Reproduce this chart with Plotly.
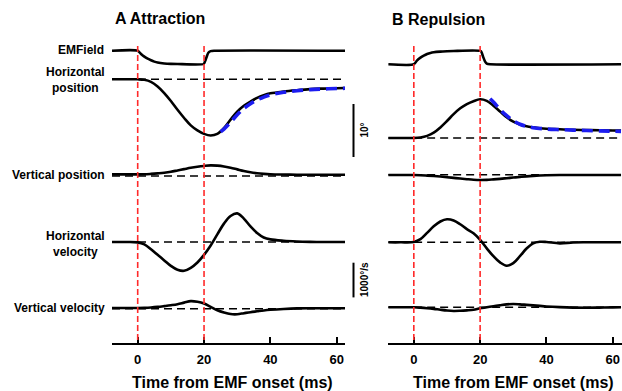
import numpy as np
import plotly.graph_objects as go

# ---------------- data ----------------
t_common = [-7.75, -4, 0, 2, 4, 6, 8, 10, 12, 14, 16, 18, 20, 22, 24, 26, 28, 30,
            32, 34, 36, 38, 40, 44, 48, 52, 56, 60, 62.5]

# EMField (normalised units)
t_emf_A = [-7.75, 0, 1, 2, 3, 4, 5, 6, 8, 10, 12, 19.9, 20.3, 20.8, 21.3, 22, 23, 62.5]
emf_A = [0, 0, -0.25, -0.45, -0.6, -0.72, -0.82, -0.89, -0.96, -0.99, -1, -1, -0.8,
         -0.45, -0.15, -0.03, 0, 0]
t_emf_B = [-7.75, 0, 1, 2, 3, 4, 5, 6, 8, 10, 12, 20.2, 20.6, 21, 21.5, 22, 23, 62.5]
emf_B = [0, 0, 0.3, 0.5, 0.65, 0.77, 0.85, 0.9, 0.95, 0.98, 1, 1, 0.8, 0.5, 0.2,
         0.05, 0, 0]

# positions (deg)
hpos_A = [0, 0, 0, -0.1, -0.5, -1.35, -2.6, -4.1, -5.75, -7.3, -8.7, -9.65, -10.3,
          -10.6, -10.3, -9.2, -7.6, -6.1, -5.0, -4.2, -3.5, -3.0, -2.65, -2.3, -2.05,
          -1.85, -1.75, -1.68, -1.64]
vpos_A = [0.3, 0.3, 0.3, 0.32, 0.4, 0.5, 0.62, 0.8, 1.05, 1.3, 1.55, 1.75, 1.9, 2.0,
          1.95, 1.8, 1.55, 1.25, 0.95, 0.7, 0.52, 0.4, 0.32, 0.27, 0.25, 0.25, 0.25,
          0.25, 0.25]
hpos_B = [0, 0, 0, 0.1, 0.4, 1.0, 2.0, 3.2, 4.5, 5.6, 6.4, 6.95, 7.3, 7.0, 6.1, 5.0,
          3.9, 3.1, 2.55, 2.2, 2.0, 1.85, 1.75, 1.65, 1.55, 1.5, 1.45, 1.42, 1.4]
vpos_B = [-0.05, -0.05, -0.06, -0.1, -0.17, -0.25, -0.35, -0.47, -0.6, -0.73, -0.85,
          -0.95, -1.0, -0.97, -0.88, -0.78, -0.66, -0.54, -0.42, -0.31, -0.22, -0.15,
          -0.1, -0.07, -0.06, -0.06, -0.06, -0.06, -0.06]

# exponential fits (deg)
t_fit_A = [25, 26, 28, 30, 32, 34, 36, 38, 40, 44, 48, 52, 56, 60, 62.5]
fit_A = [-9.9, -9.4, -8.1, -6.7, -5.5, -4.6, -3.9, -3.35, -2.95, -2.45, -2.15, -1.95,
         -1.82, -1.74, -1.7]
t_fit_B = [23, 24, 26, 28, 30, 32, 34, 36, 40, 44, 50, 56, 62.5]
fit_B = [7.4, 6.8, 5.4, 4.2, 3.25, 2.6, 2.2, 1.95, 1.7, 1.58, 1.45, 1.35, 1.25]

# velocities (deg/s)
hvel_A = [0, 0, -10, -70, -210, -370, -530, -690, -800, -830, -745, -590, -370, -100,
          220, 530, 750, 825, 675, 450, 260, 130, 75, 35, 15, 5, 0, 0, 0]
vvel_A = [20, 20, 20, 25, 35, 52, 75, 100, 130, 175, 218, 200, 150, 50, -45, -110,
          -155, -160, -130, -100, -75, -50, -32, -8, 8, 12, 12, 12, 12]
hvel_B = [0, 0, 10, 90, 270, 460, 600, 665, 630, 520, 380, 260, 70, -175, -400, -580,
          -675, -600, -400, -180, -30, 15, 10, -30, -5, 0, 0, 0, 0]
vvel_B = [0, 0, 0, -10, -25, -45, -70, -92, -105, -100, -88, -70, -30, 0, 32, 60, 85,
          95, 85, 70, 55, 40, 25, 5, -8, -12, -8, -3, 0]

event_times = [0, 20]
tick_vals = [0, 20, 40, 60]
scale_pos_deg = 10
scale_vel_degs = 1000

# ---------------- layout constants ----------------
W, H = 622, 391
PLOT_H = 343                      # plot area height in px (y axis in px units)
S_EMF = 13.3                      # px per EMF unit
S_POS = 5.3                       # px per degree
S_VEL = 0.0347                    # px per deg/s
BASE = {
    "A": dict(emf=50.7, hpos=79.3, vpos=176.0, hvel=242.0, vvel=308.7),
    "B": dict(emf=64.3, hpos=138.0, vpos=174.7, hvel=242.3, vvel=307.3),
}
XR = {"A": [-7.75, 62.5], "B": [-7.7, 62.7]}
DOM = {"A": [112 / W, 345 / W], "B": [388.3 / W, 621.7 / W]}
FONT = "Liberation Sans, Arial, Helvetica, sans-serif"

def yp(base, vals, s):
    return base - np.asarray(vals, dtype=float) * s

fig = go.Figure()
BLACK = dict(color="black", width=2.6)

panels = {
    "A": dict(xa="x", ya="y", emf_t=t_emf_A, emf=emf_A, hpos=hpos_A, vpos=vpos_A,
              hvel=hvel_A, vvel=vvel_A, tf=t_fit_A, fit=fit_A),
    "B": dict(xa="x2", ya="y2", emf_t=t_emf_B, emf=emf_B, hpos=hpos_B, vpos=vpos_B,
              hvel=hvel_B, vvel=vvel_B, tf=t_fit_B, fit=fit_B),
}

shapes = []
for key, p in panels.items():
    b = BASE[key]
    xa, ya = p["xa"], p["ya"]
    # dashed baselines
    for k in ["hpos", "vpos", "hvel", "vvel"]:
        fig.add_trace(go.Scatter(x=[t_common[0], t_common[-1]], y=[b[k], b[k]],
                                 mode="lines", xaxis=xa, yaxis=ya, hoverinfo="skip",
                                 line=dict(color="black", width=1.4, dash="8px,5px"),
                                 showlegend=False))
    fig.add_trace(go.Scatter(x=p["emf_t"], y=yp(b["emf"], p["emf"], S_EMF), mode="lines",
                             xaxis=xa, yaxis=ya, line=dict(BLACK, shape="spline", smoothing=0.6),
                             showlegend=False))
    for k, s in [("hpos", S_POS), ("vpos", S_POS), ("hvel", S_VEL), ("vvel", S_VEL)]:
        fig.add_trace(go.Scatter(x=t_common, y=yp(b[k], p[k], s), mode="lines",
                                 xaxis=xa, yaxis=ya,
                                 line=dict(BLACK, shape="spline", smoothing=1.0),
                                 showlegend=False))
    fig.add_trace(go.Scatter(x=p["tf"], y=yp(b["hpos"], p["fit"], S_POS), mode="lines",
                             xaxis=xa, yaxis=ya,
                             line=dict(color="#1c1cf0", width=3.6, dash="11px,6px",
                                       shape="spline"),
                             showlegend=False))
    for ev in event_times:
        shapes.append(dict(type="line", xref=xa, yref=ya, x0=ev, x1=ev, y0=46, y1=PLOT_H,
                           line=dict(color="#ff2a2a", width=1.6, dash="6px,3px")))

# scale bars (between panels)
bar_x = 353.5 / W
pos_top = 104
vel_top = 262.7
shapes.append(dict(type="line", xref="paper", yref="y", x0=bar_x, x1=bar_x,
                   y0=pos_top, y1=pos_top + scale_pos_deg * S_POS,
                   line=dict(color="black", width=2)))
shapes.append(dict(type="line", xref="paper", yref="y", x0=bar_x, x1=bar_x,
                   y0=vel_top, y1=vel_top + scale_vel_degs * S_VEL,
                   line=dict(color="black", width=2)))

def px(x):
    return x / W

def py(y):
    return (PLOT_H - y) / PLOT_H

ann = []
def add_text(text, x, y, size, xanchor="center", textangle=0):
    ann.append(dict(text=text, x=px(x), y=py(y), xref="paper", yref="paper",
                    xanchor=xanchor, yanchor="middle", showarrow=False,
                    textangle=textangle,
                    font=dict(family=FONT, size=size, color="black", weight="bold")))

add_text("A Attraction", 113, 19, 16, xanchor="left")
add_text("B Repulsion", 390, 20, 16, xanchor="left")
add_text("EMField", 106, 50, 12, xanchor="right")
add_text("Horizontal<br>position", 75, 80, 12)
add_text("Vertical position", 107, 175, 12, xanchor="right")
add_text("Horizontal<br>velocity", 75, 244, 12)
add_text("Vertical velocity", 107, 308, 12, xanchor="right")
add_text(f"{scale_pos_deg}°", 363.5, 130, 10, textangle=-90)
add_text(f"{scale_vel_degs}°/s", 364, 280, 10, textangle=-90)
add_text("Time from EMF onset (ms)", 232, 382, 16)
add_text("Time from EMF onset (ms)", 513, 382, 16)

axis_common = dict(showline=True, linecolor="black", linewidth=2, ticks="inside",
                   ticklen=6, tickwidth=2, tickcolor="black", tickvals=tick_vals,
                   showgrid=False, zeroline=False, ticklabelstandoff=3,
                   tickfont=dict(family=FONT, size=13, color="black", weight="bold"))
yaxis_common = dict(range=[PLOT_H, 0], visible=False, showgrid=False, zeroline=False,
                    domain=[0, 1])

fig.update_layout(
    width=W, height=H, margin=dict(l=0, r=0, t=0, b=H - PLOT_H),
    plot_bgcolor="white", paper_bgcolor="white", showlegend=False,
    xaxis=dict(axis_common, domain=DOM["A"], range=XR["A"], anchor="y"),
    xaxis2=dict(axis_common, domain=DOM["B"], range=XR["B"], anchor="y2"),
    yaxis=dict(yaxis_common, anchor="x"),
    yaxis2=dict(yaxis_common, anchor="x2"),
    shapes=shapes, annotations=ann,
    font=dict(family=FONT, color="black"),
)

fig.write_html("out.html", config={"displayModeBar": False},
               post_script="document.body.style.margin='0';"
                           "document.body.style.overflow='hidden';")
